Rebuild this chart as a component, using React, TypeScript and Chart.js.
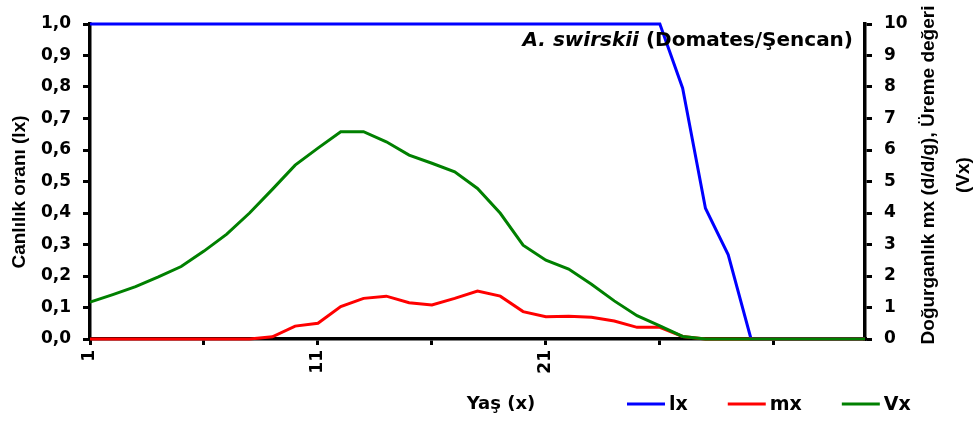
import React, { useEffect, useRef } from 'react';
import { Chart, registerables } from 'chart.js';

Chart.register(...registerables);

// ---- Data ----
const ages = [1, 2, 3, 4, 5, 6, 7, 8, 9, 10, 11, 12, 13, 14, 15, 16, 17, 18, 19, 20, 21, 22, 23, 24, 25, 26, 27, 28, 29, 30, 31, 32, 33, 34, 35];
const xTickLabels = ['1', '11', '21'];
const xTickMarks = [1, 6, 11, 16, 21, 26, 31];

const lxValues = [1, 1, 1, 1, 1, 1, 1, 1, 1, 1, 1, 1, 1, 1, 1, 1, 1, 1, 1, 1, 1, 1, 1, 1, 1, 1, 0.796, 0.415, 0.267, 0, 0, 0, 0, 0, 0];
const mxValues = [0, 0, 0, 0, 0, 0, 0, 0, 0.07, 0.41, 0.5, 1.03, 1.29, 1.36, 1.15, 1.08, 1.29, 1.52, 1.36, 0.87, 0.71, 0.72, 0.69, 0.57, 0.37, 0.37, 0.08, 0, 0, 0, 0, 0, 0, 0, 0];
const vxValues = [1.17, 1.41, 1.66, 1.97, 2.3, 2.79, 3.33, 4.0, 4.75, 5.52, 6.06, 6.58, 6.58, 6.26, 5.84, 5.58, 5.31, 4.78, 3.99, 2.98, 2.5, 2.22, 1.74, 1.21, 0.74, 0.42, 0.08, 0, 0, 0, 0, 0, 0, 0, 0];

const seriesNames = ['lx', 'mx', 'Vx'];
const seriesColors = ['#0000FF', '#FF0000', '#008000'];

const titleItalic = 'A. swirskii';
const titleRest = ' (Domates/Şencan)';
const xTitle = 'Yaş (x)';
const leftTitle = 'Canlılık oranı (lx)';
const rightTitleLines = ['Doğurganlık mx (d/d/g), Üreme değeri', '(Vx)'];

const W = 976;
const H = 425;
const tickFont = { family: '"DejaVu Sans", sans-serif', size: 17, weight: 'bold' as const };

const textPlugin = {
  id: 'customTexts',
  afterDraw(chart: any) {
    const ctx = chart.ctx as CanvasRenderingContext2D;
    const area = chart.chartArea;
    ctx.save();
    ctx.fillStyle = '#000';
    ctx.textBaseline = 'alphabetic';

    // Title inside the plot (top right)
    ctx.font = 'italic bold 20px "DejaVu Sans"';
    const w1 = ctx.measureText(titleItalic).width;
    ctx.font = 'bold 20px "DejaVu Sans"';
    const w2 = ctx.measureText(titleRest).width;
    const tx = area.right - 12 - (w1 + w2);
    const ty = area.top + 22;
    ctx.font = 'italic bold 20px "DejaVu Sans"';
    ctx.fillText(titleItalic, tx, ty);
    ctx.font = 'bold 20px "DejaVu Sans"';
    ctx.fillText(titleRest, tx + w1, ty);

    // X axis title
    ctx.font = 'bold 18px "DejaVu Sans"';
    ctx.textAlign = 'center';
    ctx.fillText(xTitle, 501, 409);

    // Legend
    ctx.textAlign = 'left';
    ctx.font = 'bold 19px "DejaVu Sans"';
    let lxPos = 627;
    seriesNames.forEach((name, i) => {
      ctx.strokeStyle = seriesColors[i];
      ctx.lineWidth = 3;
      ctx.beginPath();
      ctx.moveTo(lxPos, 404);
      ctx.lineTo(lxPos + 38, 404);
      ctx.stroke();
      ctx.fillText(name, lxPos + 42, 410);
      lxPos = lxPos + 42 + ctx.measureText(name).width + 40;
    });

    // Left axis title
    ctx.font = 'bold 19px "Liberation Sans"';
    ctx.textAlign = 'center';
    ctx.textBaseline = 'middle';
    ctx.save();
    ctx.translate(20, 192);
    ctx.rotate(-Math.PI / 2);
    ctx.fillText(leftTitle, 0, 0);
    ctx.restore();

    // Right axis title (two lines, bottom-to-top)
    ctx.save();
    ctx.translate(929, 175);
    ctx.rotate(-Math.PI / 2);
    ctx.fillText(rightTitleLines[0], 0, 0);
    ctx.fillText(rightTitleLines[1], 0, 35);
    ctx.restore();

    ctx.restore();
  },
};

export default function App() {
  const canvasRef = useRef<HTMLCanvasElement | null>(null);

  useEffect(() => {
    document.body.style.margin = '0';
    const canvas = canvasRef.current;
    if (!canvas) return;
    const chart = new Chart(canvas, {
      type: 'line',
      data: {
        labels: ages.map(String),
        datasets: [
          {
            label: seriesNames[0],
            data: lxValues,
            yAxisID: 'y',
            borderColor: seriesColors[0],
            backgroundColor: seriesColors[0],
            borderWidth: 3,
            pointRadius: 0,
            tension: 0,
            order: 2,
            clip: 4,
          },
          {
            label: seriesNames[1],
            data: mxValues,
            yAxisID: 'y1',
            borderColor: seriesColors[1],
            backgroundColor: seriesColors[1],
            borderWidth: 3,
            pointRadius: 0,
            tension: 0,
            order: 1,
            clip: 4,
          },
          {
            label: seriesNames[2],
            data: vxValues,
            yAxisID: 'y1',
            borderColor: seriesColors[2],
            backgroundColor: seriesColors[2],
            borderWidth: 3,
            pointRadius: 0,
            tension: 0,
            order: 0,
            clip: 4,
          },
        ],
      },
      options: {
        responsive: false,
        animation: false,
        layout: { padding: { top: 24, left: 0, right: 0, bottom: 0 } },
        plugins: {
          legend: { display: false },
          tooltip: { enabled: false },
          title: { display: false },
        },
        scales: {
          x: {
            type: 'category',
            offset: false,
            afterBuildTicks: (scale: any) => {
              scale.ticks = scale.ticks.filter((t: any) => xTickMarks.includes(ages[t.value]));
            },
            afterFit: (scale: any) => {
              scale.height = H - 339;
            },
            border: { display: true, color: '#000', width: 3.5 },
            grid: {
              display: true,
              drawOnChartArea: false,
              drawTicks: true,
              tickLength: 6,
              color: '#000',
              lineWidth: 3,
              offset: false,
            },
            ticks: {
              autoSkip: false,
              minRotation: 90,
              maxRotation: 90,
              padding: 5,
              color: '#000',
              font: tickFont,
              callback: (value: any) => {
                const lab = String(ages[value as number]);
                return xTickLabels.includes(lab) ? lab : '';
              },
            },
          },
          y: {
            type: 'linear',
            position: 'left',
            min: 0,
            max: 1,
            afterFit: (scale: any) => {
              scale.width = 90;
            },
            border: { display: true, color: '#000', width: 3.5 },
            grid: {
              display: true,
              drawOnChartArea: false,
              drawTicks: true,
              tickLength: 7,
              color: '#000',
              lineWidth: 3,
            },
            ticks: {
              stepSize: 0.1,
              padding: 12,
              color: '#000',
              font: tickFont,
              callback: (v: any) => Number(v).toFixed(1).replace('.', ','),
            },
          },
          y1: {
            type: 'linear',
            position: 'right',
            min: 0,
            max: 10,
            afterFit: (scale: any) => {
              scale.width = W - 865;
            },
            border: { display: true, color: '#000', width: 3.5 },
            grid: {
              display: true,
              drawOnChartArea: false,
              drawTicks: true,
              tickLength: 7,
              color: '#000',
              lineWidth: 3,
            },
            ticks: {
              stepSize: 1,
              padding: 12,
              color: '#000',
              font: tickFont,
              callback: (v: any) => String(v),
            },
          },
        },
      },
      plugins: [textPlugin],
    });
    return () => chart.destroy();
  }, []);

  return (
    <div style={{ position: 'fixed', left: 0, top: 0, width: W, height: H, background: '#fff' }}>
      <canvas ref={canvasRef} width={W} height={H} style={{ width: W, height: H, display: 'block' }} />
    </div>
  );
}
